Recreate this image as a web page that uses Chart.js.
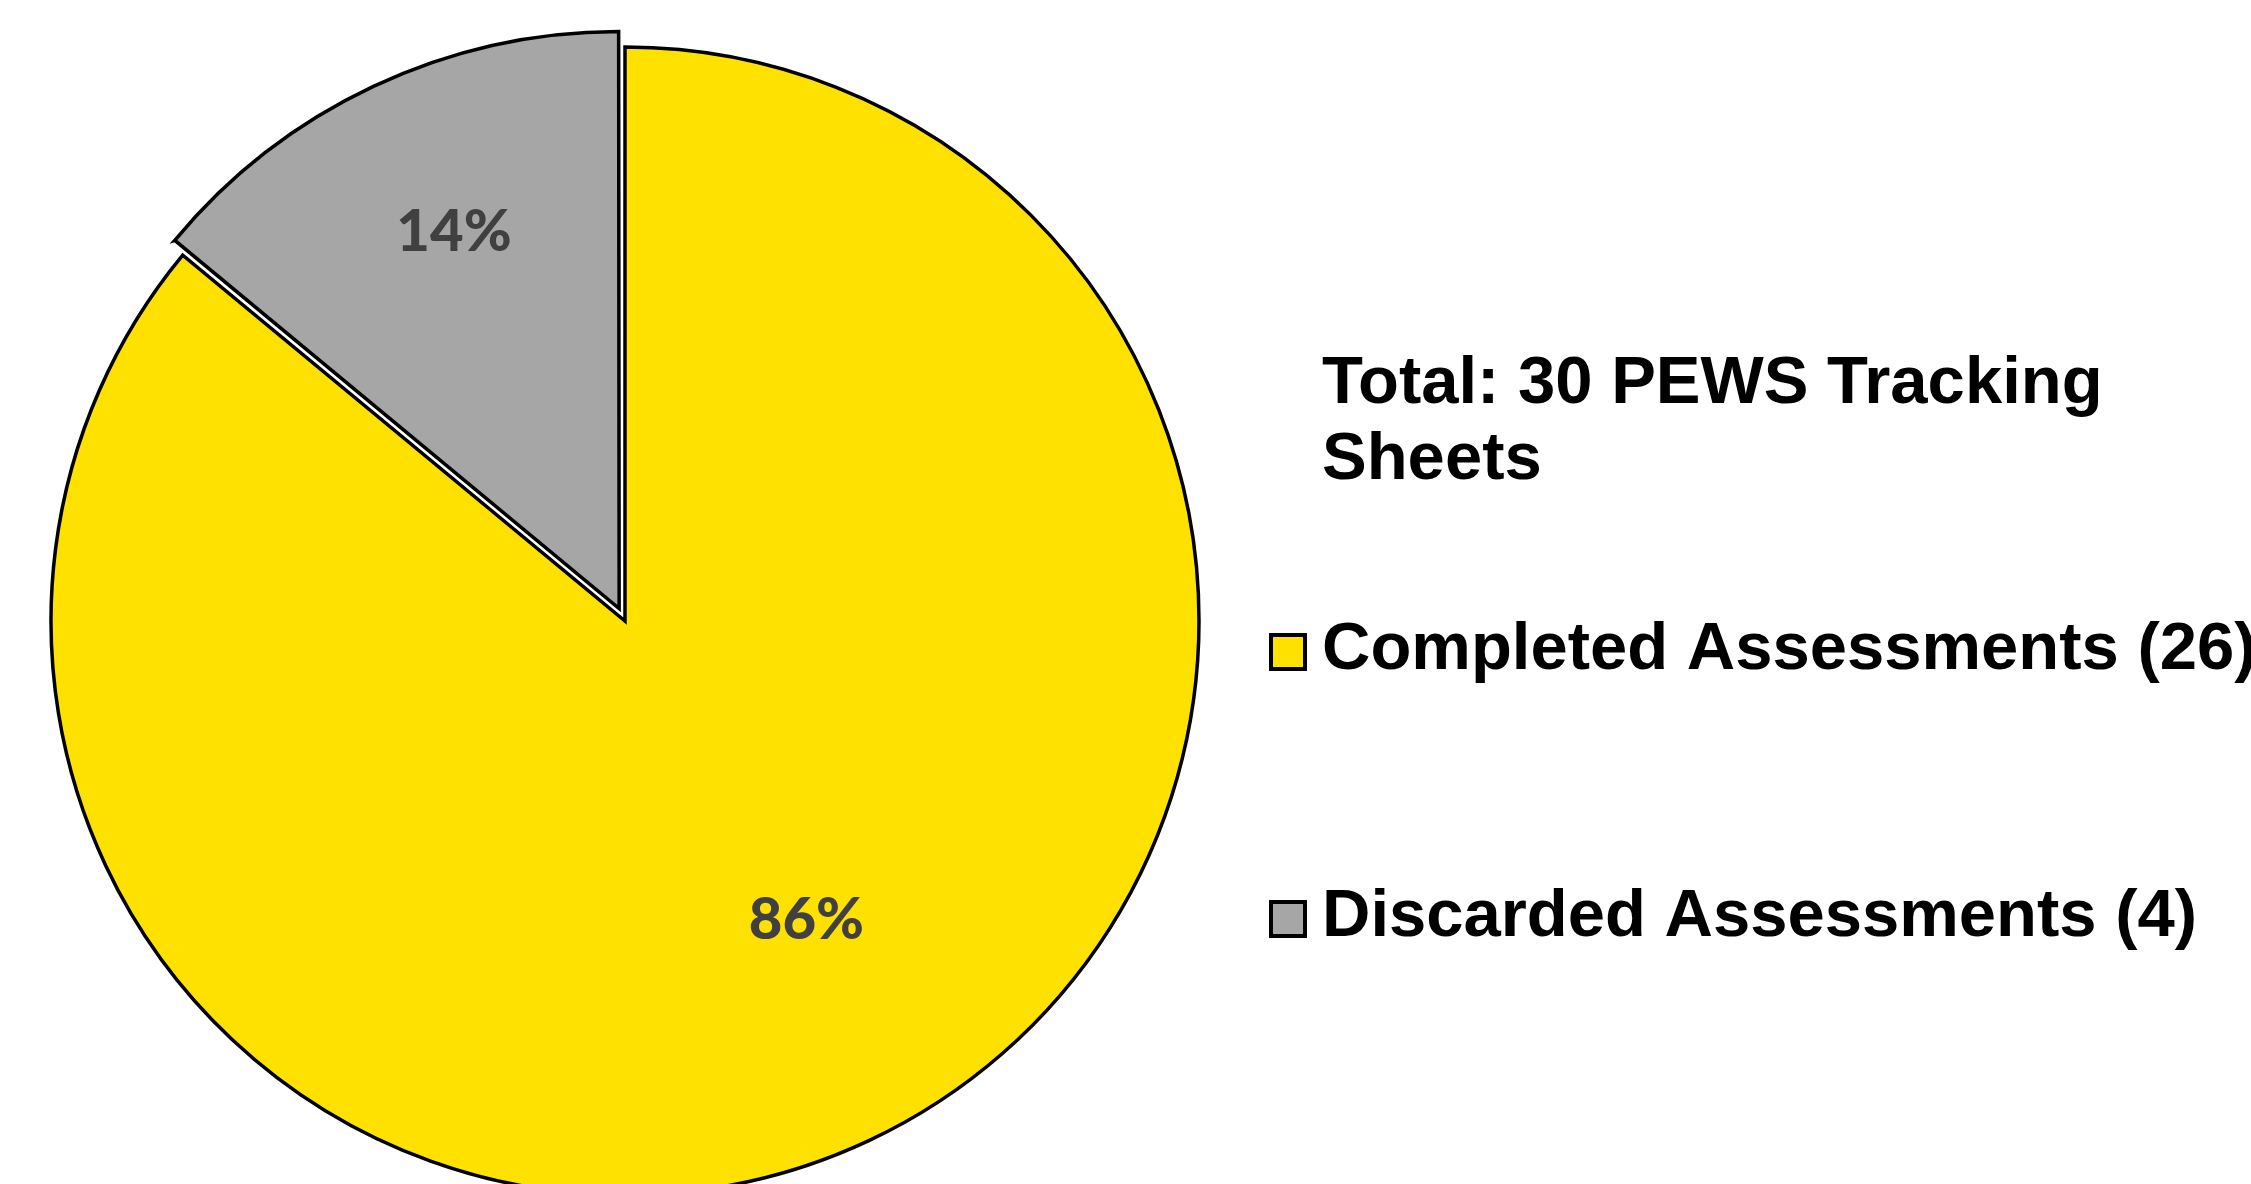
<!DOCTYPE html>
<html>
<head>
<meta charset="utf-8">
<script src="https://cdn.jsdelivr.net/npm/chart.js@4"></script>
<style>
    html, body {margin: 0; padding: 0; background: #fff; overflow: hidden;}
    #box {width: 2251px; height: 1184px; position: relative;}
</style>
</head>
<body>
<div id="box"><canvas id="chart"></canvas></div>
<script>
const categories = ["Completed Assessments", "Discarded Assessments"]
const counts = [26, 4]
const percents = [86, 14]
const colors = ["#FFE100", "#A6A6A6"]
const titleLines = ["Total: 30 PEWS Tracking", "Sheets"]

// slice labels, placed along the middle angle of each arc
const sliceLabels = {
    id: "sliceLabels",
    afterDatasetsDraw(chart, args, opts) {
        const ctx = chart.ctx
        const meta = chart.getDatasetMeta(0)

        ctx.save()
        ctx.font = opts.font
        ctx.fillStyle = opts.color
        ctx.textAlign = "center"
        ctx.textBaseline = "middle"

        meta.data.forEach((arc, i) => {
            const {x, y, startAngle, endAngle, outerRadius, circumference} = arc.getProps(["x", "y", "startAngle", "endAngle", "outerRadius", "circumference"])
            const half = (startAngle + endAngle) / 2
            const off = (arc.options.offset || 0) / 4
            const fix = 1 - Math.sin(Math.min(Math.PI, circumference || 0))
            const tr = off * (1 + fix)
            const p = opts.pos[i]
            const a = half + p.a * Math.PI / 180
            const lx = x + Math.cos(half) * tr + Math.cos(a) * outerRadius * p.r
            const ly = y + Math.sin(half) * tr + Math.sin(a) * outerRadius * p.r

            ctx.fillText(percents[i] + "%", lx, ly)
        })
        ctx.restore()
    }
}

// legend on the right, as in the original sheet
const sideLegend = {
    id: "sideLegend",
    afterDraw(chart, args, opts) {
        const ctx = chart.ctx
        const ds = chart.data.datasets[0]

        ctx.save()
        ctx.font = opts.font
        ctx.fillStyle = "#000"
        ctx.textAlign = "left"
        ctx.textBaseline = "alphabetic"

        titleLines.forEach((line, i) => {
            ctx.fillText(line, opts.x, opts.titleY + i * opts.titleGap)
        })

        chart.data.labels.forEach((label, i) => {
            const y = opts.itemY[i]
            const s = opts.box
            ctx.fillStyle = ds.backgroundColor[i]
            ctx.fillRect(opts.boxX, y - s / 2 - 17, s, s)
            ctx.lineWidth = 4
            ctx.strokeStyle = "#000"
            ctx.strokeRect(opts.boxX, y - s / 2 - 17, s, s)
            ctx.fillStyle = "#000"
            ctx.fillText(label, opts.x, y)
        })
        ctx.restore()
    }
}

new Chart(document.getElementById("chart"), {
    type: "pie",
    data: {
        labels: categories.map((c, i) => `${c} (${counts[i]})`),
        datasets: [{
            data: percents,
            backgroundColor: colors,
            borderColor: "#000",
            borderWidth: 3.5,
            borderJoinStyle: "miter",
            offset: [0, 55],
            radius: 574,
            clip: false
        }]
    },
    options: {
        responsive: true,
        maintainAspectRatio: false,
        animation: false,
        layout: {
            padding: {left: 0, right: 1001, top: 58, bottom: 0}
        },
        plugins: {
            legend: {display: false},
            tooltip: {enabled: false},
            sliceLabels: {
                font: "900 58px Lato",
                color: "#404040",
                pos: [{r: 0.61, a: -6}, {r: 0.71, a: 1.5}]
            },
            sideLegend: {
                font: "bold 67px 'Liberation Sans', Arial, sans-serif",
                x: 1322,
                titleY: 403,
                titleGap: 76,
                boxX: 1271,
                box: 34,
                itemY: [669, 936]
            }
        }
    },
    plugins: [sliceLabels, sideLegend]
})
</script>
</body>
</html>
